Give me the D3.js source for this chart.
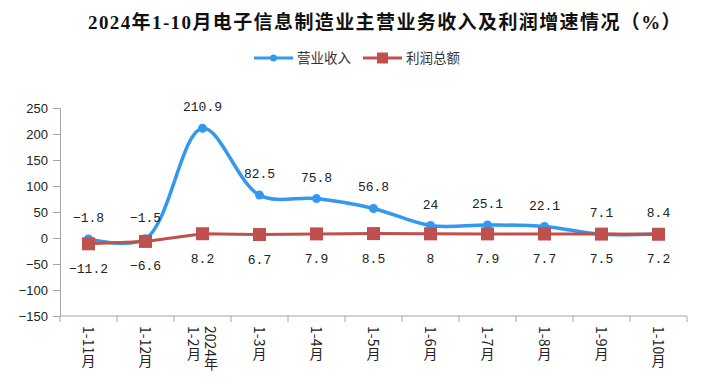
<!DOCTYPE html>
<html>
<head>
<meta charset="utf-8">
<script src="https://cdn.jsdelivr.net/npm/d3@7"></script>
<style>
  body { margin: 0; background: #fff; }
  svg { display: block; }
</style>
</head>
<body>
<svg id="chart" width="725" height="380"></svg>
<script>
// categories (x axis), some labels span two columns
const categories = ['1-11月', '1-12月', '2024年1-2月', '1-3月', '1-4月', '1-5月',
  '1-6月', '1-7月', '1-8月', '1-9月', '1-10月'];
const categoryLines = [['1-11月'], ['1-12月'], ['2024年', '1-2月'], ['1-3月'], ['1-4月'],
  ['1-5月'], ['1-6月'], ['1-7月'], ['1-8月'], ['1-9月'], ['1-10月']];
const revenue = [-1.8, -1.5, 210.9, 82.5, 75.8, 56.8, 24, 25.1, 22.1, 7.1, 8.4];
const profit = [-11.2, -6.6, 8.2, 6.7, 7.9, 8.5, 8, 7.9, 7.7, 7.5, 7.2];
const yTicks = [-150, -100, -50, 0, 50, 100, 150, 200, 250];
const seriesNames = ['营业收入', '利润总额'];
const titleText = '2024年1-10月电子信息制造业主营业务收入及利润增速情况（%）';

const blue = '#3399ee';
const red = '#c0504d';
const axisColor = '#a6a6a6';

const svg = d3.select('#chart');
const plotLeft = 60, plotRight = 687, plotTop = 108, plotBottom = 316;

const x = d3.scaleBand().domain(categories).range([plotLeft, plotRight]);
const y = d3.scaleLinear().domain([-150, 250]).range([plotBottom, plotTop]);
const cx = (i) => x(categories[i]) + x.bandwidth() / 2;

// title
svg.append('text')
    .attr('x', 385).attr('y', 29)
    .attr('text-anchor', 'middle')
    .attr('font-family', '"Liberation Serif", "Noto Sans CJK SC", serif')
    .attr('font-weight', 'bold')
    .attr('font-size', 19)
    .attr('letter-spacing', 1.4)
    .attr('fill', '#111')
    .text(titleText);

// legend
const legend = svg.append('g').attr('font-family', '"Noto Sans CJK SC", sans-serif')
    .attr('font-size', 13.5).attr('fill', '#333');
const legendItems = [
  {name: seriesNames[0], color: blue, x0: 254, marker: 'circle'},
  {name: seriesNames[1], color: red, x0: 363, marker: 'rect'},
];
legendItems.forEach((d) => {
  legend.append('line').attr('x1', d.x0).attr('x2', d.x0 + 39)
      .attr('y1', 58).attr('y2', 58)
      .attr('stroke', d.color).attr('stroke-width', 3);
  if (d.marker == 'circle') {
    legend.append('circle').attr('cx', d.x0 + 19.5).attr('cy', 58).attr('r', 3.5)
        .attr('fill', d.color);
  } else {
    legend.append('rect').attr('x', d.x0 + 14).attr('y', 52.5).attr('width', 11)
        .attr('height', 11).attr('fill', d.color);
  }
  legend.append('text').attr('x', d.x0 + 43).attr('y', 63).text(d.name);
});

// y axis
const yAxis = svg.append('g')
    .attr('transform', 'translate(' + plotLeft + ',0)')
    .call(d3.axisLeft(y).tickValues(yTicks).tickSize(7).tickPadding(5)
        .tickFormat((d) => String(d).replace('-', '−')));
yAxis.select('.domain').attr('stroke', axisColor);
yAxis.selectAll('.tick line').attr('stroke', axisColor);
yAxis.selectAll('.tick text').attr('fill', '#222')
    .attr('font-family', '"Liberation Sans", Arial, sans-serif').attr('font-size', 13);

// x axis with ticks between categories
const xAxis = svg.append('g')
    .attr('transform', 'translate(0,' + plotBottom + ')');
xAxis.append('line').attr('x1', plotLeft).attr('x2', plotRight)
    .attr('stroke', axisColor);
xAxis.selectAll('.xt').data(d3.range(categories.length + 1)).enter()
    .append('line')
    .attr('x1', (i) => plotLeft + i * x.step()).attr('x2', (i) => plotLeft + i * x.step())
    .attr('y1', 0).attr('y2', 6)
    .attr('stroke', axisColor);

categoryLines.forEach((lines, i) => {
  const n = lines.length;
  lines.forEach((line, j) => {
    // vertical-rl: first column on the right
    const colX = cx(i) + (n - 1) * 8.5 - j * 17;
    svg.append('text')
        .attr('x', colX).attr('y', plotBottom + 10)
        .attr('style', 'writing-mode: vertical-rl; text-orientation: mixed;')
        .attr('font-family', '"Noto Sans CJK SC", sans-serif')
        .attr('font-size', 14)
        .attr('fill', '#222')
        .text(line);
  });
});

// blue smooth line
const lineBlue = d3.line()
    .x((d, i) => cx(i))
    .y((d) => y(d))
    .curve(d3.curveCatmullRom.alpha(0.5));
svg.append('path').datum(revenue)
    .attr('d', lineBlue)
    .attr('fill', 'none').attr('stroke', blue).attr('stroke-width', 3.5);
svg.append('g').selectAll('circle').data(revenue).enter()
    .append('circle')
    .attr('cx', (d, i) => cx(i)).attr('cy', (d) => y(d))
    .attr('r', 4.5).attr('fill', blue);

// red straight line
const lineRed = d3.line()
    .x((d, i) => cx(i))
    .y((d) => y(d));
svg.append('path').datum(profit)
    .attr('d', lineRed)
    .attr('fill', 'none').attr('stroke', red).attr('stroke-width', 3);
svg.append('g').selectAll('rect').data(profit).enter()
    .append('rect')
    .attr('x', (d, i) => cx(i) - 6.5).attr('y', (d) => y(d) - 6.5)
    .attr('width', 13).attr('height', 13).attr('fill', red);

// data labels
const labelFont = '"Liberation Mono", "DejaVu Sans Mono", monospace';
svg.append('g').selectAll('text').data(revenue).enter()
    .append('text')
    .attr('x', (d, i) => cx(i)).attr('y', (d) => y(d) - 22 + 5)
    .attr('text-anchor', 'middle')
    .attr('font-family', labelFont).attr('font-size', 13).attr('fill', '#222')
    .text((d) => String(d).replace('-', '−'));
svg.append('g').selectAll('text').data(profit).enter()
    .append('text')
    .attr('x', (d, i) => cx(i)).attr('y', (d) => y(d) + 24 + 5)
    .attr('text-anchor', 'middle')
    .attr('font-family', labelFont).attr('font-size', 13).attr('fill', '#222')
    .text((d) => String(d).replace('-', '−'));
</script>
</body>
</html>
